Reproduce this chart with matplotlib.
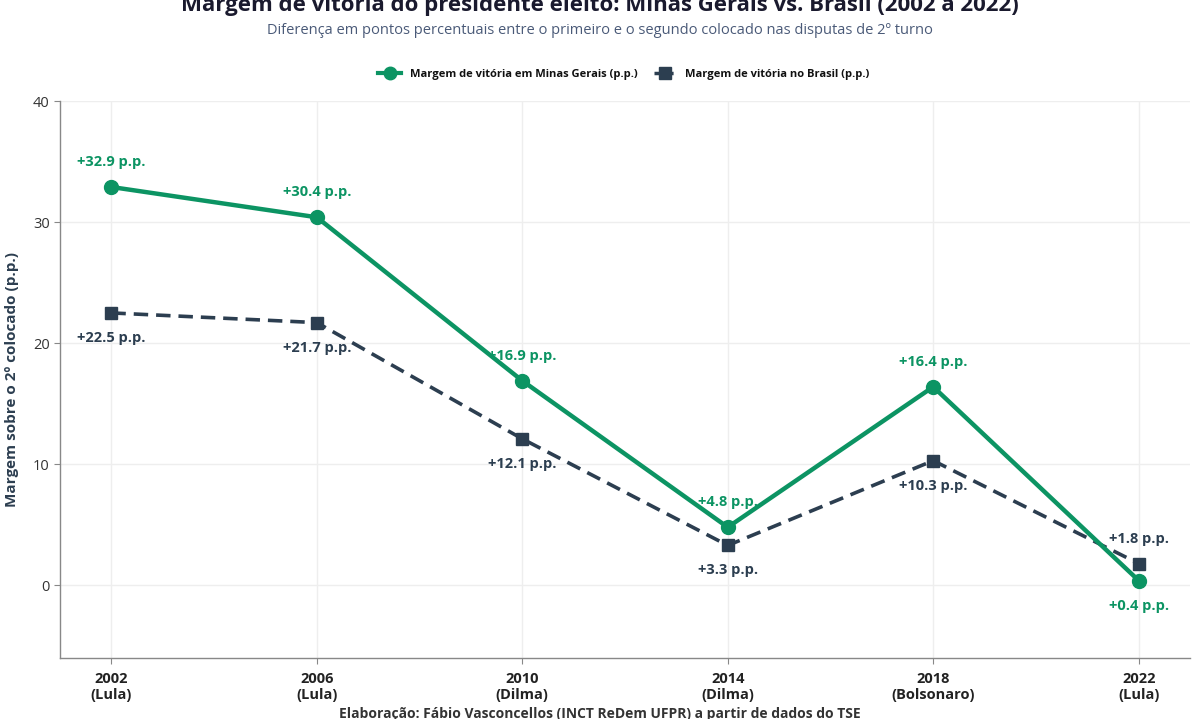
import matplotlib
matplotlib.use("Agg")
import matplotlib.pyplot as plt
from matplotlib.lines import Line2D

plt.rcParams['font.family'] = ['Open Sans', 'DejaVu Sans']

years = ["2002", "2006", "2010", "2014", "2018", "2022"]
winners = ["Lula", "Lula", "Dilma", "Dilma", "Bolsonaro", "Lula"]
mg_margin = [32.9, 30.4, 16.9, 4.8, 16.4, 0.4]
br_margin = [22.5, 21.7, 12.1, 3.3, 10.3, 1.8]
y_ticks = [0, 10, 20, 30, 40]

GREEN = "#0c9463"
DARK = "#2c3e50"
GRID = "#eeeeee"

fig = plt.figure(figsize=(12, 7.19), dpi=100)
fig.patch.set_facecolor("white")
ax = fig.add_axes([0.05, 0.0848, 0.9417, 0.7747])
ax.set_facecolor("white")

x = list(range(len(years)))
ax.plot(x, mg_margin, color=GREEN, lw=3.2, marker="o", ms=10, zorder=4,
        solid_capstyle="round")
ax.plot(x, br_margin, color=DARK, lw=2.6, ls=(0, (4, 2.2)), marker="s", ms=8,
        zorder=3)

# labels
for i, (m, b) in enumerate(zip(mg_margin, br_margin)):
    if m >= b:
        mo, bo = 18, -18
    else:
        mo, bo = -18, 18
    ax.annotate(f"+{m:.1f} p.p.", (i, m), xytext=(0, mo), textcoords="offset points",
                ha="center", va="center", color=GREEN, fontsize=10.5,
                fontweight="bold", zorder=6)
    ax.annotate(f"+{b:.1f} p.p.", (i, b), xytext=(0, bo), textcoords="offset points",
                ha="center", va="center", color=DARK, fontsize=10.5,
                fontweight="bold", zorder=6)

ax.set_xlim(-0.25, len(years) - 0.75)
ax.set_ylim(-6, 40)
ax.set_yticks(y_ticks)
ax.set_xticks(x)
ax.set_xticklabels([f"{y}\n({w})" for y, w in zip(years, winners)],
                   fontsize=10.5, fontweight="bold", color="#222222")
ax.tick_params(axis="y", labelsize=10.5, colors="#333333", length=4, color="#888888")
ax.tick_params(axis="x", length=4, color="#888888", pad=6)
ax.grid(True, color=GRID, lw=1)
ax.set_axisbelow(True)
for s in ["top", "right"]:
    ax.spines[s].set_visible(False)
for s in ["left", "bottom"]:
    ax.spines[s].set_color("#888888")
    ax.spines[s].set_linewidth(1)

ax.set_ylabel("Margem sobre o 2º colocado (p.p.)", fontsize=11, fontweight="bold",
              color=DARK, labelpad=10)

fig.text(0.5, 0.993, "Margem de vitória do presidente eleito: Minas Gerais vs. Brasil (2002 a 2022)",
         ha="center", va="center", fontsize=16, fontweight="bold", color="#1a1a2e")
fig.text(0.5, 0.957, "Diferença em pontos percentuais entre o primeiro e o segundo colocado nas disputas de 2º turno",
         ha="center", va="center", fontsize=10.5, color="#4a5a78")

handles = [
    Line2D([0], [0], color=GREEN, lw=3, marker="o", ms=9),
    Line2D([0], [0], color=DARK, lw=2.5, ls=(0, (2, 1.5)), marker="s", ms=8),
]
fig.legend(handles, ["Margem de vitória em Minas Gerais (p.p.)", "Margem de vitória no Brasil (p.p.)"],
           loc="center", bbox_to_anchor=(0.52, 0.897), ncol=2, frameon=False,
           prop={"size": 8, "weight": "bold"}, handlelength=2.0, columnspacing=1.5,
           labelcolor="#111111")

fig.text(0.5, 0.007, "Elaboração: Fábio Vasconcellos (INCT ReDem UFPR) a partir de dados do TSE",
         ha="center", va="center", fontsize=10, fontweight="bold", color="#333333")

fig.savefig("out.png", dpi=100, facecolor="white")
